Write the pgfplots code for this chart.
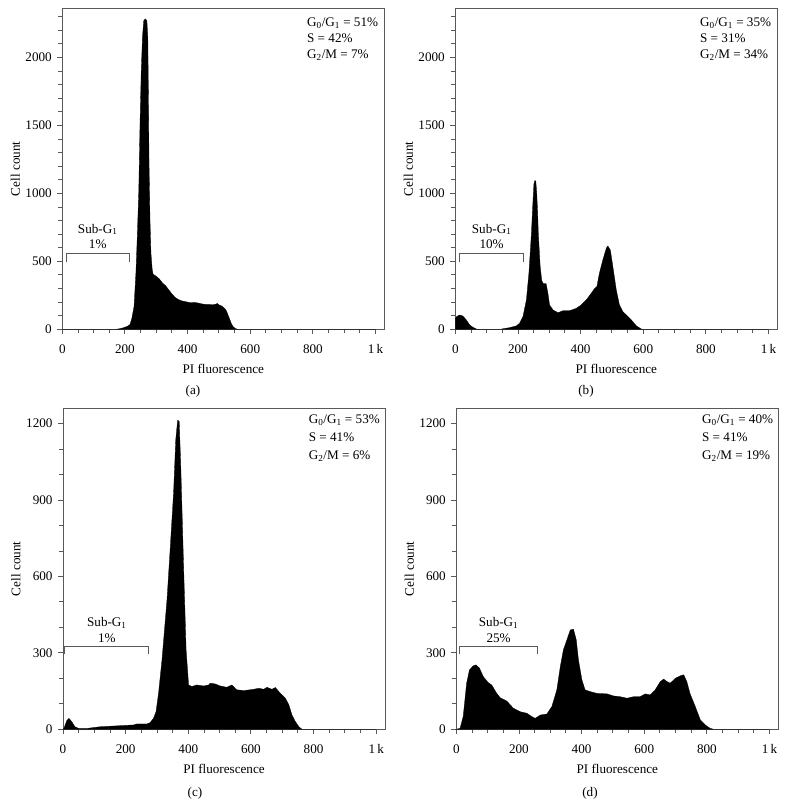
\documentclass[border=0pt]{standalone}
\usepackage{fontspec}
\setmainfont{Liberation Serif}
\usepackage{pgfplots}
\pgfplotsset{compat=1.18}

\definecolor{axgray}{gray}{0.35}
\newcommand{\fs}{\fontsize{13.2}{15}\selectfont}

\pgfplotsset{
  flow/.style={
    scale only axis, width=322bp, height=321bp,
    xmin=0, xmax=1028, ymin=0,
    axis line style={axgray, line width=0.9bp},
    every tick/.style={axgray, line width=0.9bp},
    tick align=outside, xtick pos=left, ytick pos=left,
    major tick length=5bp, minor tick length=4bp,
    xtick={0,200,400,600,800,1000},
    xticklabels={0,200,400,600,800,1\,k},
    minor xtick={50,100,...,950},
    every tick label/.append style={font=\fs},
    xticklabel style={font=\fs, yshift=-7bp},
    yticklabel style={font=\fs, xshift=-2bp},
    label style={font=\fs},
    xlabel={PI fluorescence}, ylabel={Cell count},
    x label style={at={(axis description cs:0.5,-0.125)}, anchor=center},
    y label style={at={(axis description cs:-0.146,0.5)}, anchor=center},
    clip=false,
  },
  hist/.style={fill=black, draw=black, line width=0.3bp},
  big/.style={ymax=2362, ytick={0,500,1000,1500,2000},
    yticklabels={0,500,1000,1500,2000}, minor ytick={100,200,...,2300}},
  small/.style={ymax=1260, ytick={0,300,600,900,1200},
    yticklabels={0,300,600,900,1200}, minor ytick={100,200,...,1200}},
}

\begin{document}
\begin{tikzpicture}

% (a)
\begin{axis}[flow, big, at={(62.3bp,476.7bp)}, anchor=south west]
\addplot[hist] coordinates {
(0,0) (170,0) (180,3) (190,8) (200,15) (210,25) (216,35) (222,80) (229,166)
(235,412) (239,657) (244,1000) (248,1500) (252,1900) (256,2150) (260,2270)
(265,2285) (270,2270) (273,2150) (275,1700) (277,1200) (280,800) (283,560)
(287,440) (290,405) (300,390) (310,370) (320,340) (330,320) (340,290)
(350,260) (360,235) (370,220) (380,210) (390,205) (400,200) (410,195)
(420,198) (430,195) (440,190) (450,185) (460,183) (470,183) (480,180)
(490,185) (495,190) (500,180) (510,170) (520,150) (525,130) (530,100)
(535,70) (540,40) (546,18) (552,6) (560,0) (1000,0)
} \closedcycle;
\node[anchor=north east, align=left, inner xsep=6bp, inner ysep=9.5bp,
      font=\fontsize{13.2}{15.8}\selectfont] at (rel axis cs:1,1)
  {G\textsubscript{0}/G\textsubscript{1} = 51\%\\S = 42\%\\G\textsubscript{2}/M = 7\%};
\draw[axgray, line width=0.9bp] (axis cs:13,493) |- (axis cs:213,559) -- (axis cs:213,493);
\node[anchor=south, align=center, inner sep=0pt, yshift=4bp,
      font=\fontsize{13.2}{16}\selectfont] at (axis cs:113,559)
  {Sub-G\textsubscript{1}\\1\%};
\end{axis}

% (b)
\begin{axis}[flow, big, at={(455.3bp,476.7bp)}, anchor=south west]
\addplot[hist] coordinates {
(0,80) (5,95) (14,105) (24,98) (35,69) (46,32) (56,15) (67,2) (75,0) (145,0)
(152,4) (173,12) (195,25) (205,44) (216,93) (227,216) (235,412) (243,706)
(247,900) (251,1070) (254,1095) (257,1090) (260,1000) (263,850) (265,706)
(271,461) (276,360) (280,338) (290,335) (296,260) (301,179) (312,142)
(328,122) (344,137) (365,137) (386,154) (402,179) (418,216) (434,265)
(445,301) (452,314) (460,412) (471,510) (482,596) (487,613) (495,583)
(503,461) (514,289) (524,179) (535,130) (546,105) (562,69) (578,25)
(594,2) (600,0) (1000,0)
} \closedcycle;
\node[anchor=north east, align=left, inner xsep=6bp, inner ysep=9.5bp,
      font=\fontsize{13.2}{15.8}\selectfont] at (rel axis cs:1,1)
  {G\textsubscript{0}/G\textsubscript{1} = 35\%\\S = 31\%\\G\textsubscript{2}/M = 34\%};
\draw[axgray, line width=0.9bp] (axis cs:14,493) |- (axis cs:217,559) -- (axis cs:217,493);
\node[anchor=south, align=center, inner sep=0pt, yshift=4bp,
      font=\fontsize{13.2}{16}\selectfont] at (axis cs:116,559)
  {Sub-G\textsubscript{1}\\10\%};
\end{axis}

% (c)
\begin{axis}[flow, small, at={(63bp,76.7bp)}, anchor=south west]
\addplot[hist] coordinates {
(0,0) (3,4) (12,34) (19,43) (28,30) (38,10) (49,4) (80,4) (118,10) (225,17)
(236,21) (268,21) (278,26) (289,43) (297,69) (305,141) (316,272) (332,508)
(342,705) (353,928) (360,1137) (366,1213) (371,1209) (376,1032) (385,639)
(393,312) (401,174) (411,168) (427,174) (449,170) (465,174) (470,181)
(486,178) (502,170) (523,165) (539,174) (555,155) (577,152) (609,157)
(625,161) (641,157) (651,165) (667,157) (678,164) (694,141) (710,122)
(721,96) (731,56) (742,30) (753,10) (763,0) (1000,0)
} \closedcycle;
\node[anchor=north east, align=left, inner xsep=5bp, inner ysep=6bp,
      font=\fontsize{13.2}{18}\selectfont] at (rel axis cs:1,1)
  {G\textsubscript{0}/G\textsubscript{1} = 53\%\\S = 41\%\\G\textsubscript{2}/M = 6\%};
\draw[axgray, line width=0.9bp] (axis cs:6,294) |- (axis cs:273,325) -- (axis cs:273,294);
\node[anchor=south, align=center, inner sep=0pt, yshift=4bp,
      font=\fontsize{13.2}{16}\selectfont] at (axis cs:140,325)
  {Sub-G\textsubscript{1}\\1\%};
\end{axis}

% (d)
\begin{axis}[flow, small, at={(456.3bp,76.7bp)}, anchor=south west]
\addplot[hist] coordinates {
(0,0) (12,4) (22,50) (33,181) (42,233) (54,249) (63,253) (74,240) (86,207)
(102,183) (113,174) (129,141) (140,124) (161,111) (182,83) (204,69) (225,63)
(241,50) (252,43) (268,56) (289,60) (305,89) (321,155) (332,246) (342,312)
(353,351) (364,390) (374,393) (383,351) (390,272) (401,194) (411,155)
(427,148) (449,141) (481,139) (502,131) (523,128) (545,122) (566,128)
(587,128) (603,139) (619,135) (635,155) (651,187) (662,197) (673,187)
(683,181) (699,200) (715,210) (726,214) (736,187) (746,141) (763,89)
(779,37) (795,17) (810,4) (822,0) (1000,0)
} \closedcycle;
\node[anchor=north east, align=left, inner xsep=5bp, inner ysep=6bp,
      font=\fontsize{13.2}{18}\selectfont] at (rel axis cs:1,1)
  {G\textsubscript{0}/G\textsubscript{1} = 40\%\\S = 41\%\\G\textsubscript{2}/M = 19\%};
\draw[axgray, line width=0.9bp] (axis cs:11,294) |- (axis cs:259,325) -- (axis cs:259,294);
\node[anchor=south, align=center, inner sep=0pt, yshift=4bp,
      font=\fontsize{13.2}{16}\selectfont] at (axis cs:135,325)
  {Sub-G\textsubscript{1}\\25\%};
\end{axis}

\begin{scope}[font=\fs]
\node at (193bp,415bp) {(a)};
\node at (586bp,415bp) {(b)};
\node at (195bp,13bp) {(c)};
\node at (590bp,13bp) {(d)};
\end{scope}

\pgfresetboundingbox
\path[use as bounding box] (0,0) rectangle (786bp,806bp);
\end{tikzpicture}
\end{document}
